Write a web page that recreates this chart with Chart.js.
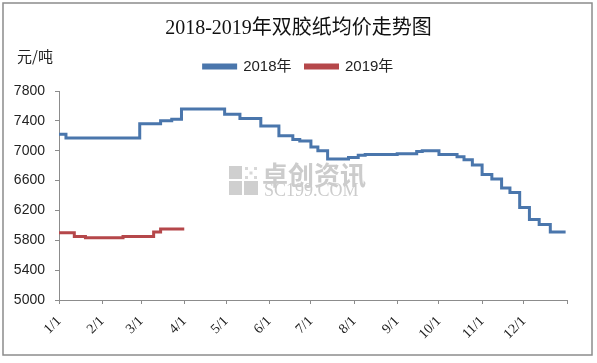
<!DOCTYPE html>
<html>
<head>
<meta charset="utf-8">
<script src="https://cdn.jsdelivr.net/npm/chart.js@4"></script>
<style>
html,body{margin:0;padding:0;background:#fff;}
#wrap{position:relative;width:597px;height:363px;}
</style>
</head>
<body>
<div id="wrap"><canvas id="c" width="597" height="363"></canvas></div>
<script>
// ---- data ----
const chartTitle = '2018-2019年双胶纸均价走势图';
const unitLabel = '元/吨';
const seriesNames = ['2018年', '2019年'];
// day of year where price changes (step points)
const days2018 = [0, 5, 58, 73, 81, 88, 119, 130, 145, 158, 168, 173, 181, 186, 193, 208, 215, 220, 243, 257, 261, 273, 286, 291, 297, 304, 311, 318, 324, 331, 338, 345, 353, 364];
const values2018 = [7220, 7170, 7360, 7400, 7420, 7560, 7490, 7430, 7330, 7200, 7150, 7130, 7050, 7000, 6890, 6910, 6940, 6950, 6960, 6990, 7000, 6950, 6920, 6880, 6810, 6680, 6620, 6500, 6440, 6240, 6080, 6010, 5910, 5910];
const days2019 = [0, 11, 19, 46, 68, 73, 90];
const values2019 = [5900, 5850, 5835, 5850, 5910, 5950, 5950];
const monthStartDays = [0, 31, 59, 90, 120, 151, 181, 212, 243, 273, 304, 334, 365];
const tickLabels = ['1/1', '2/1', '3/1', '4/1', '5/1', '6/1', '7/1', '8/1', '9/1', '10/1', '11/1', '12/1', ''];
const yTicks = [5000, 5400, 5800, 6200, 6600, 7000, 7400, 7800];

const toPoints = (xs, ys) => xs.map((x, i) => ({x: x, y: ys[i]}));

const extras = {
  id: 'extras',
  beforeDraw(chart) {
    const ctx = chart.ctx;
    ctx.save();
    ctx.fillStyle = '#fff';
    ctx.fillRect(0, 0, chart.width, chart.height);
    ctx.strokeStyle = '#8c8c8c';
    ctx.lineWidth = 1.5;
    ctx.strokeRect(3, 3, 589, 352);
    ctx.fillStyle = '#222';
    ctx.font = '15px "Noto Sans CJK SC"';
    ctx.textBaseline = 'middle';
    ctx.fillText(unitLabel, 17, 56);
    ctx.restore();
  },
  beforeDatasetsDraw(chart) {
    const ctx = chart.ctx;
    ctx.save();
    ctx.fillStyle = '#cfcfcf';
    ctx.fillRect(229, 166, 13, 13);
    ctx.fillRect(229, 181, 13, 14);
    ctx.fillRect(244, 181, 14, 14);
    ctx.fillStyle = '#d8d8d8';
    for (let i = 0; i < 3; i++) for (let j = 0; j < 3; j++) {
      if ((i + j) % 2 === 0) ctx.fillRect(245 + i * 4.5, 167 + j * 4.5, 3, 3);
    }
    ctx.fillStyle = '#cccccc';
    ctx.font = 'bold 26px "Noto Sans CJK SC"';
    ctx.textBaseline = 'middle';
    ctx.fillText('卓创资讯', 262, 175);
    ctx.font = '18px "Liberation Serif"';
    ctx.fillText('SC199.COM', 264, 191);
    ctx.restore();
  }
};

new Chart(document.getElementById('c'), {
  type: 'line',
  data: {
    datasets: [
      {
        label: seriesNames[0],
        data: toPoints(days2018, values2018),
        borderColor: '#4A76AC',
        backgroundColor: '#4A76AC',
        borderWidth: 3,
        pointRadius: 0,
        stepped: 'before',
        fill: false
      },
      {
        label: seriesNames[1],
        data: toPoints(days2019, values2019),
        borderColor: '#B5474A',
        backgroundColor: '#B5474A',
        borderWidth: 3,
        pointRadius: 0,
        stepped: 'before',
        fill: false
      }
    ]
  },
  options: {
    responsive: false,
    animation: false,
    devicePixelRatio: 1,
    layout: {padding: {left: 0, right: 0, top: 0, bottom: 0}},
    plugins: {
      title: {
        display: true,
        text: chartTitle,
        color: '#111',
        font: {family: '"Liberation Serif", "Noto Sans CJK SC"', size: 20, weight: 'normal'},
        padding: {top: 17, bottom: 4}
      },
      legend: {
        display: true,
        position: 'top',
        labels: {
          boxWidth: 32,
          boxHeight: 3,
          color: '#222',
          padding: 14,
          font: {family: '"Liberation Sans", "Noto Sans CJK SC"', size: 15}
        }
      },
      tooltip: {enabled: false}
    },
    scales: {
      x: {
        type: 'linear',
        min: 0,
        max: 365,
        afterBuildTicks: (s) => { s.ticks = monthStartDays.map(v => ({value: v})); },
        afterFit: (s) => { s.height = 63; },
        ticks: {
          autoSkip: false,
          minRotation: 45,
          maxRotation: 45,
          padding: 9,
          color: '#222',
          font: {family: '"Liberation Serif"', size: 14},
          callback: (v, i) => tickLabels[i]
        },
        grid: {drawOnChartArea: false, drawTicks: true, tickLength: 4, color: '#8c8c8c'},
        border: {color: '#8c8c8c', width: 1}
      },
      xTop: {
        type: 'linear',
        position: 'top',
        display: true,
        min: 0,
        max: 365,
        afterFit: (s) => { s.height = 7; },
        ticks: {display: false},
        grid: {display: false, drawOnChartArea: false, drawTicks: false},
        border: {display: false}
      },
      y: {
        min: 5000,
        max: 7800,
        afterBuildTicks: (s) => { s.ticks = yTicks.map(v => ({value: v})); },
        afterFit: (s) => { s.width = 59; },
        ticks: {
          padding: 10,
          color: '#222',
          font: {family: '"Liberation Sans"', size: 14},
          callback: (v) => String(v)
        },
        grid: {drawOnChartArea: false, drawTicks: true, tickLength: 4, color: '#8c8c8c'},
        border: {color: '#8c8c8c', width: 1}
      },
      yRight: {
        position: 'right',
        display: true,
        min: 5000,
        max: 7800,
        afterFit: (s) => { s.width = 30; },
        ticks: {display: false},
        grid: {display: false, drawOnChartArea: false, drawTicks: false},
        border: {display: false}
      }
    }
  },
  plugins: [extras]
});
</script>
</body>
</html>
